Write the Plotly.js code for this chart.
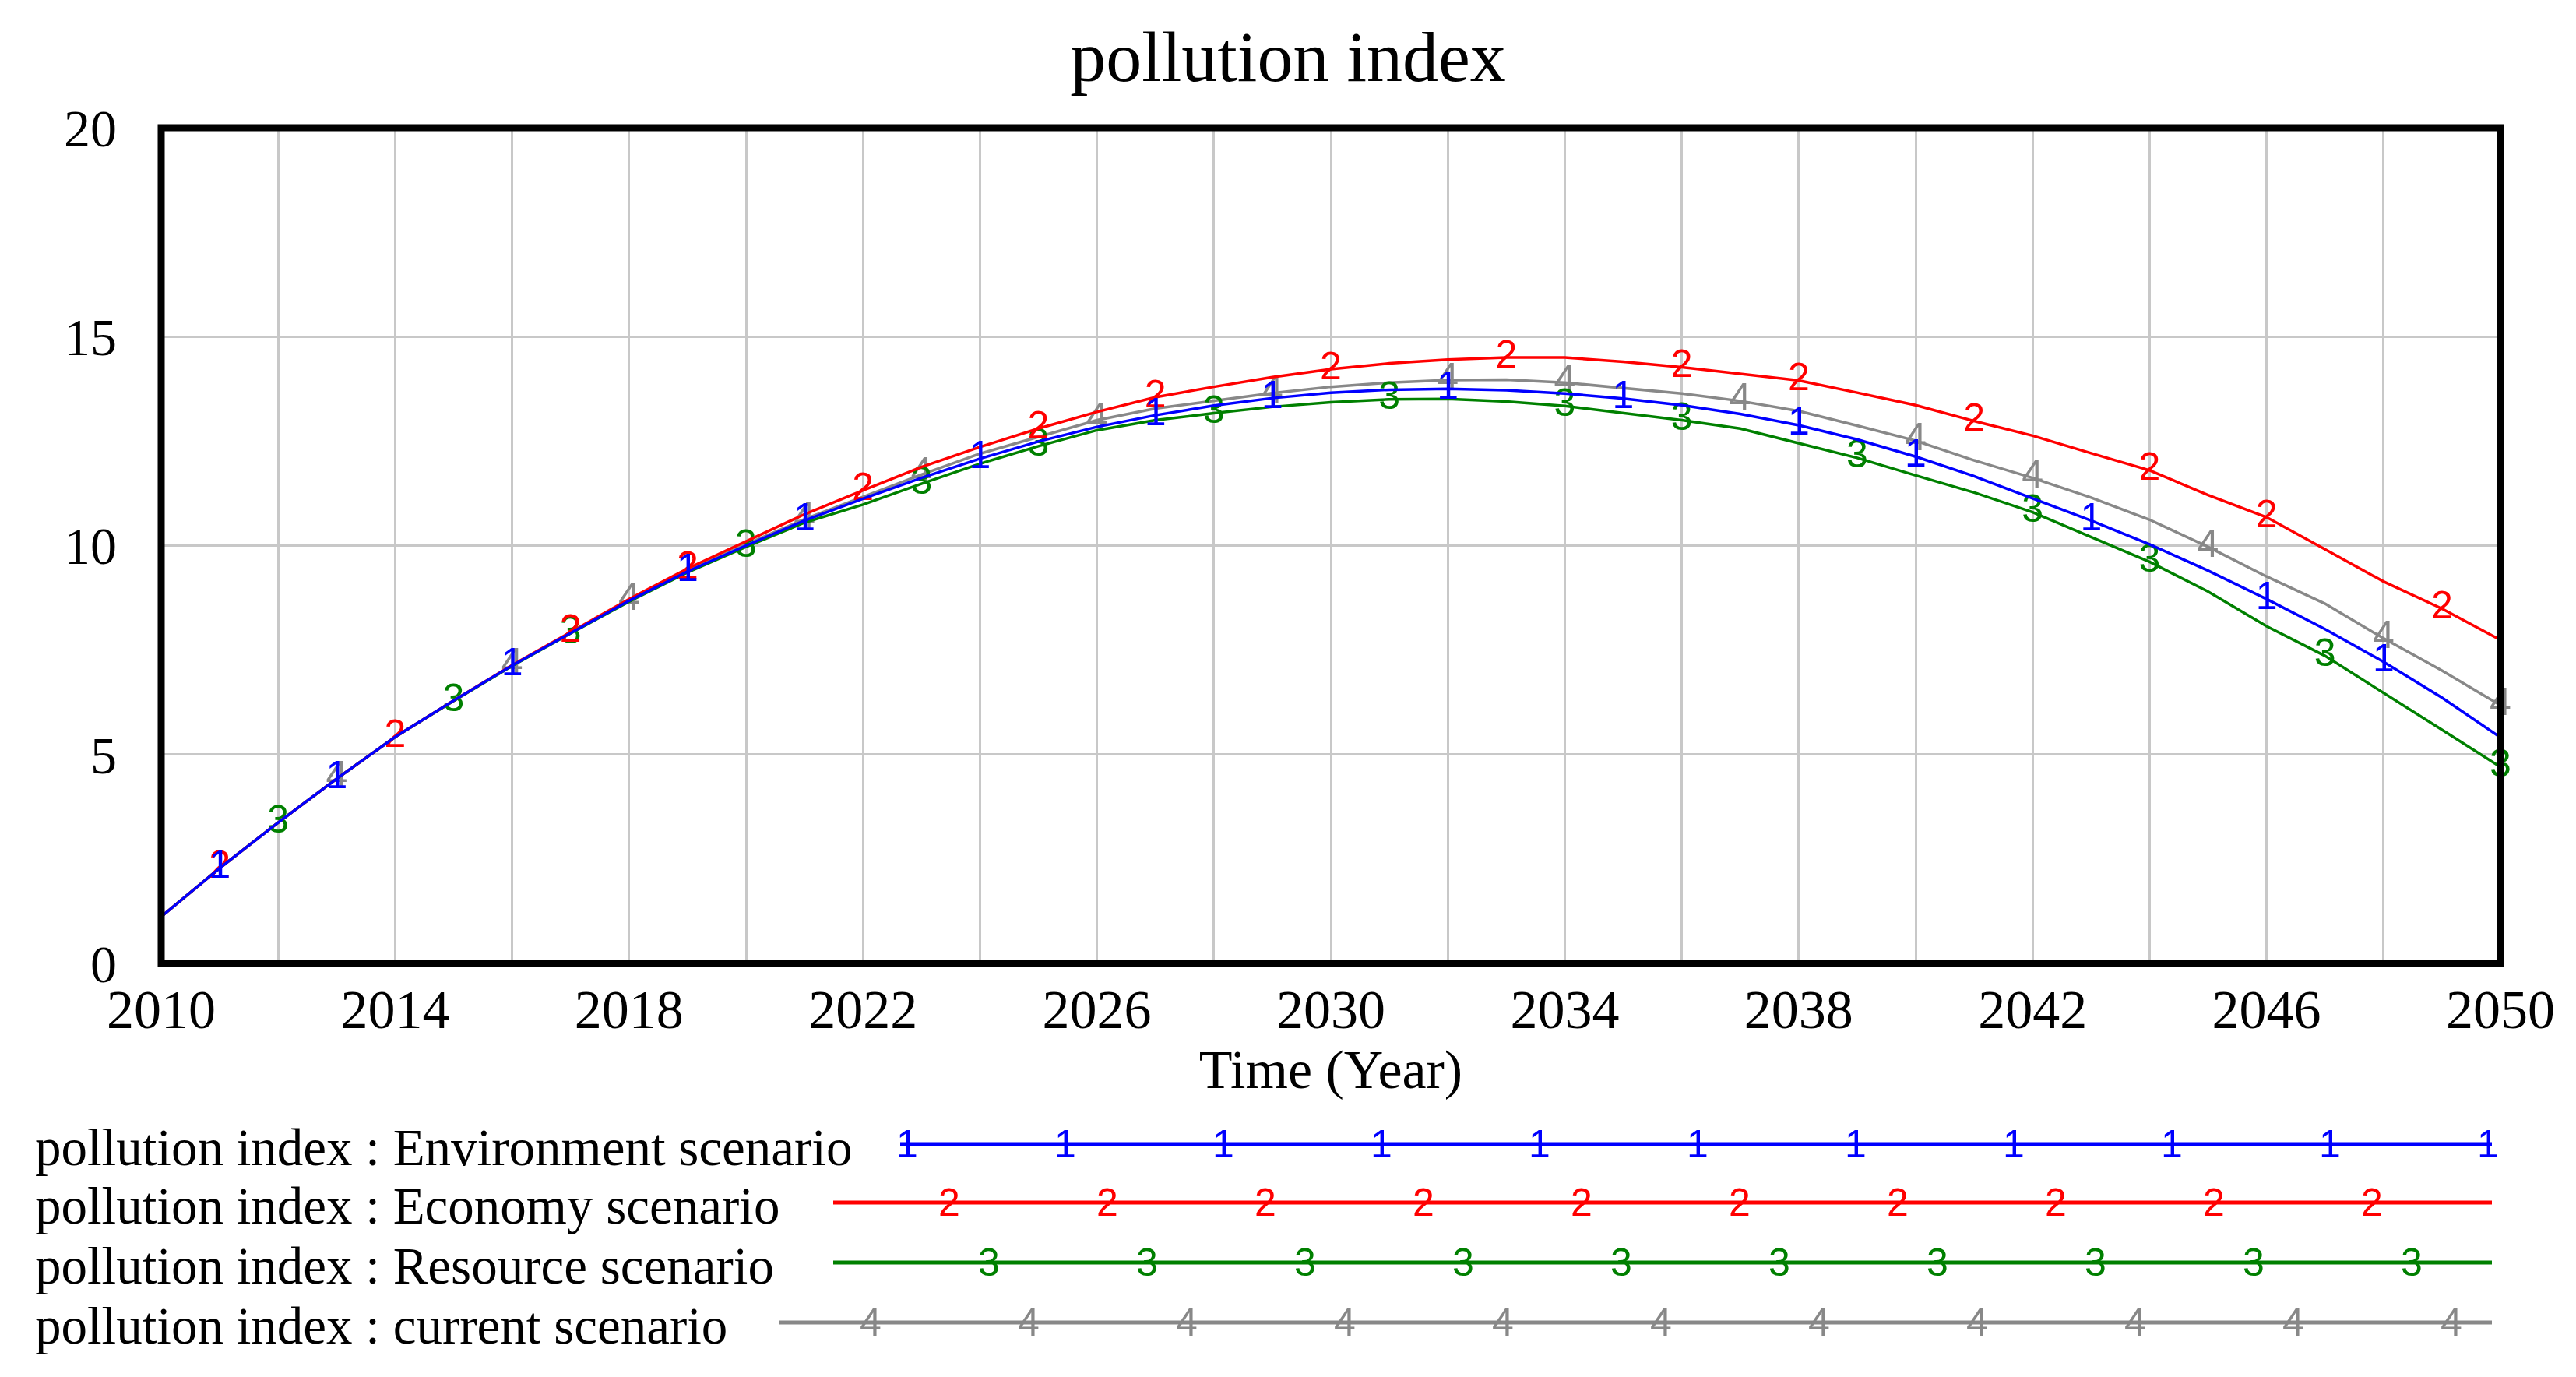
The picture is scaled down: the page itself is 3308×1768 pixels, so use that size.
<!DOCTYPE html>
<html>
<head>
<meta charset="utf-8">
<script src="https://cdn.plot.ly/plotly-3.0.1.min.js"></script>
<style>html,body{margin:0;padding:0;background:#fff;}#chart{width:3308px;height:1768px;}</style>
</head>
<body>
<div id="chart"></div>
<script>
// ---------- data ----------
const years = [2010,2011,2012,2013,2014,2015,2016,2017,2018,2019,2020,
  2021,2022,2023,2024,2025,2026,2027,2028,2029,2030,
  2031,2032,2033,2034,2035,2036,2037,2038,2039,2040,
  2041,2042,2043,2044,2045,2046,2047,2048,2049,2050];

const environmentScenario = [1.12,2.28,3.37,4.42,5.42,6.29,7.13,7.91,8.68,9.38,10.0,
  10.6,11.12,11.62,12.08,12.49,12.84,13.12,13.35,13.53,13.66,
  13.73,13.75,13.72,13.64,13.52,13.36,13.15,12.88,12.54,12.13,
  11.66,11.13,10.6,10.03,9.4,8.72,8.0,7.22,6.36,5.41];

const economyScenario = [1.12,2.28,3.37,4.42,5.42,6.29,7.14,7.93,8.72,9.45,10.1,
  10.75,11.32,11.88,12.36,12.8,13.2,13.55,13.8,14.03,14.22,
  14.36,14.45,14.5,14.5,14.4,14.27,14.11,13.95,13.66,13.36,
  12.98,12.63,12.21,11.8,11.21,10.68,9.91,9.14,8.49,7.74];

const resourceScenario = [1.12,2.28,3.37,4.42,5.42,6.28,7.12,7.9,8.66,9.36,9.97,
  10.55,10.98,11.48,11.96,12.38,12.76,13.0,13.17,13.32,13.43,
  13.5,13.51,13.45,13.34,13.17,13.0,12.8,12.45,12.1,11.68,
  11.27,10.8,10.2,9.61,8.9,8.07,7.36,6.48,5.59,4.7];

const currentScenario = [1.12,2.28,3.37,4.42,5.42,6.29,7.13,7.92,8.7,9.4,10.03,
  10.63,11.17,11.7,12.2,12.6,13.0,13.28,13.46,13.65,13.8,
  13.9,13.96,13.97,13.9,13.77,13.64,13.46,13.22,12.87,12.51,
  12.04,11.62,11.15,10.62,9.97,9.26,8.61,7.78,7.01,6.18];

// years where the series number is printed on the curve
const envMarkerYears = [2011,2013,2016,2019,2021,2024,2027,2029,2032,2035,2038,2040,2043,2046,2048];
const econMarkerYears = [2011,2014,2017,2019,2022,2025,2027,2030,2033,2036,2038,2041,2044,2046,2049];
const resMarkerYears = [2012,2015,2017,2020,2023,2025,2028,2031,2034,2036,2039,2042,2044,2047,2050];
const curMarkerYears = [2013,2016,2018,2021,2023,2026,2029,2032,2034,2037,2040,2042,2045,2048,2050];

const seriesNames = ["pollution index : Environment scenario","pollution index : Economy scenario",
  "pollution index : Resource scenario","pollution index : current scenario"];
const seriesLabels = ["1","2","3","4"];
const xTickVals = [2010,2014,2018,2022,2026,2030,2034,2038,2042,2046,2050];
const yTickVals = [0,5,10,15,20];

// ---------- styles / layout constants ----------
const colors = ["#0000ff","#ff0000","#008000","#888888"];
const SERIF = "Liberation Serif, 'Times New Roman', serif";
const SANS = "Liberation Sans, Arial, sans-serif";
const W = 3308, Hh = 1768;
const L = 207, R = 3211, T = 164, B = 1237;
const PW = R - L, PH = B - T;
const px2x = p => (p - L) / PW;
const py2y = p => (B - p) / PH;

const seriesData = [environmentScenario, economyScenario, resourceScenario, currentScenario];
const markerYears = [envMarkerYears, econMarkerYears, resMarkerYears, curMarkerYears];

function makeTrace(i) {
  return {
    type: "scatter",
    mode: "lines+text",
    x: years,
    y: seriesData[i],
    name: seriesNames[i],
    text: years.map(yr => markerYears[i].includes(yr) ? seriesLabels[i] : ""),
    textposition: "middle center",
    textfont: {family: SANS, size: 50, color: colors[i]},
    line: {color: colors[i], width: 3.5},
    cliponaxis: false,
    hoverinfo: "x+y+name"
  };
}
// draw order: current, resource, economy, environment (on top)
const traces = [3,2,1,0].map(makeTrace);

// ---------- custom legend (Vensim style) ----------
const legendRowY = [1469, 1544, 1621, 1698];
const legendLineStart = [1156, 1070, 1070, 1000];
const legendLineEnd = 3200;
const legendMarkStart = [1165, 1219, 1270, 1118];
const legendMarkCount = [11, 10, 10, 11];
const legendMarkStep = 203;
const legendTextX = 43;

const shapes = [{
  type: "rect", xref: "paper", yref: "paper", x0: 0, x1: 1, y0: 0, y1: 1,
  line: {color: "#000", width: 9}, layer: "above"
}];
const annotations = [];
for (let i = 0; i < 4; i++) {
  shapes.push({
    type: "line", xref: "paper", yref: "paper",
    x0: px2x(legendLineStart[i]), x1: px2x(legendLineEnd),
    y0: py2y(legendRowY[i]), y1: py2y(legendRowY[i]),
    line: {color: colors[i], width: 5}
  });
  annotations.push({
    xref: "paper", yref: "paper", x: px2x(legendTextX), y: py2y(legendRowY[i] + 4),
    xanchor: "left", yanchor: "middle", showarrow: false,
    text: seriesNames[i], font: {family: SERIF, size: 67, color: "#000"}
  });
  for (let k = 0; k < legendMarkCount[i]; k++) {
    annotations.push({
      xref: "paper", yref: "paper",
      x: px2x(legendMarkStart[i] + k * legendMarkStep), y: py2y(legendRowY[i]),
      xanchor: "center", yanchor: "middle", showarrow: false,
      text: seriesLabels[i], font: {family: SANS, size: 50, color: colors[i]}
    });
  }
}

const gridColor = "#c8c8c8";
const layout = {
  width: W, height: Hh,
  margin: {l: L, r: W - R, t: T, b: Hh - B, pad: 0},
  paper_bgcolor: "#fff", plot_bgcolor: "#fff",
  showlegend: false,
  title: {
    text: "pollution index", x: 0.5, xref: "container", xanchor: "center",
    y: 1 - 72 / Hh, yref: "container", yanchor: "middle",
    font: {family: SERIF, size: 92, color: "#000"}
  },
  xaxis: {
    range: [2010, 2050], tickvals: xTickVals, ticks: "",
    showgrid: true, gridcolor: gridColor, gridwidth: 3, zeroline: false,
    minor: {dtick: 2, tick0: 2010, showgrid: true, gridcolor: gridColor, gridwidth: 3},
    tickfont: {family: SERIF, size: 70, color: "#000"},
    ticklabelstandoff: 12,
    title: {text: "Time (Year)", font: {family: SERIF, size: 70, color: "#000"}, standoff: 6},
    automargin: false, fixedrange: true
  },
  yaxis: {
    range: [0, 20], tickvals: yTickVals, ticks: "",
    showgrid: true, gridcolor: gridColor, gridwidth: 3, zeroline: false,
    tickfont: {family: SERIF, size: 68, color: "#000"},
    ticklabelstandoff: 56,
    automargin: false, fixedrange: true
  },
  shapes: shapes,
  annotations: annotations
};

Plotly.newPlot("chart", traces, layout, {staticPlot: true, displayModeBar: false});
</script>
</body>
</html>
